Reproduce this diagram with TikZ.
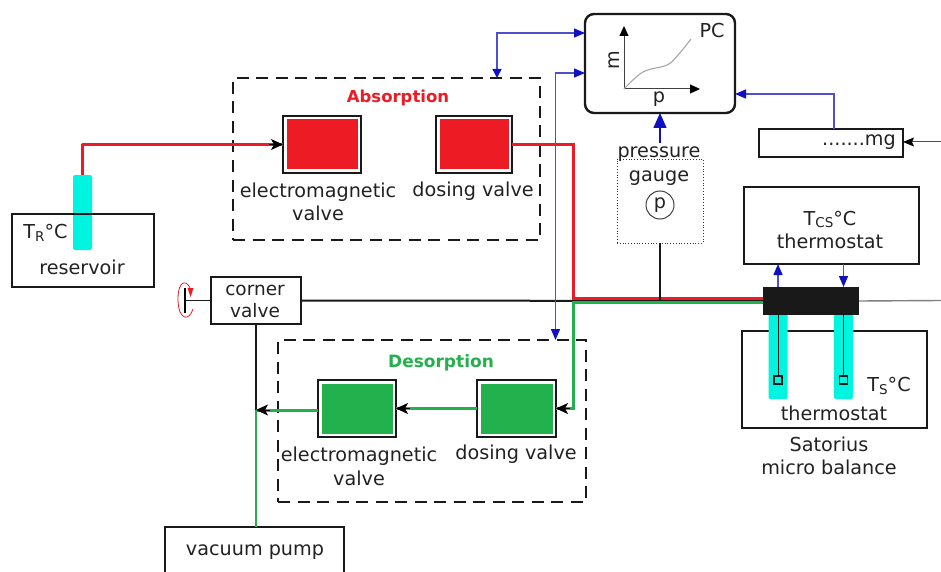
\documentclass[tikz,border=0pt]{standalone}
\usepackage{fontspec}
\setmainfont{DejaVu Sans}
\usetikzlibrary{arrows.meta,calc}
\definecolor{txt}{HTML}{222222}
\definecolor{rd}{HTML}{ED1C24}
\definecolor{gn}{HTML}{22B14C}
\definecolor{bl}{HTML}{1010BE}
\definecolor{bll}{HTML}{5050CC}
\definecolor{cy}{HTML}{00F5E0}
\newcommand{\lowsub}[1]{{\fontsize{13.5}{14}\selectfont\raisebox{-2.5pt}{#1}}}
\tikzset{
  lbl/.style={text=txt,font=\fontsize{19.2}{23.5}\selectfont,inner sep=0pt,align=center},
  sbox/.style={draw=black!90,line width=2pt,inner sep=0pt,outer sep=0pt},
  valve/.style={sbox,line width=2.6pt,fill=white},
  dashbox/.style={draw=black!90,line width=2pt,dash pattern=on 12pt off 7.5pt,inner sep=0pt,outer sep=0pt},
  tube/.style={fill=cy,draw=none,rounded corners=2pt},
  blk/.style={-{Stealth[length=12pt,width=11pt,inset=3pt]},black},
  redl/.style={rd,line width=3pt},
  grnl/.style={gn,line width=3pt},
  bluel/.style={bll,line width=1.35pt},
}
\begin{document}
\begin{tikzpicture}[x=1pt,y=-1pt]
\useasboundingbox (0,0) rectangle (941,572);
\clip (0,0) rectangle (941,572);
\fill[white] (0,0) rectangle (941,572);

% dashed groups
\node[dashbox,minimum width=307pt,minimum height=162pt] (abs) at (386.5,159) {};
\node[dashbox,minimum width=308pt,minimum height=162pt] (des) at (432,421) {};
\node[text=rd,font=\fontsize{16.5}{20}\selectfont\bfseries,inner sep=0pt] (abst) at (398,98) {Absorption};
\node[text=gn,font=\fontsize{17}{20}\selectfont\bfseries,inner sep=0pt] (dest) at (441,363) {Desorption};

% valves
\node[valve,minimum width=78pt,minimum height=57pt] (ema) at (322,144.5) {};
\node[valve,minimum width=76pt,minimum height=57pt] (doa) at (474,144.5) {};
\node[valve,minimum width=78pt,minimum height=57pt] (emd) at (357,408.5) {};
\node[valve,minimum width=79pt,minimum height=57pt] (dod) at (516.5,408.5) {};
\fill[rd] ([shift={(3.5pt,3.5pt)}]ema.south west) rectangle ([shift={(-3.5pt,-3.5pt)}]ema.north east);
\fill[rd] ([shift={(3.5pt,3.5pt)}]doa.south west) rectangle ([shift={(-3.5pt,-3.5pt)}]doa.north east);
\fill[gn] ([shift={(3.5pt,3.5pt)}]emd.south west) rectangle ([shift={(-3.5pt,-3.5pt)}]emd.north east);
\fill[gn] ([shift={(3.5pt,3.5pt)}]dod.south west) rectangle ([shift={(-3.5pt,-3.5pt)}]dod.north east);
\node[lbl] (emat) at (318,202) {electromagnetic\\valve};
\node[lbl] (doat) at (473,191) {dosing valve};
\node[lbl] (emdt) at (359,466.5) {electromagnetic\\valve};
\node[lbl] (dodt) at (516,454) {dosing valve};

% reservoir
\node[sbox,minimum width=142pt,minimum height=73pt] (res) at (83,250.5) {};
\node[tube,minimum width=19pt,minimum height=75pt,inner sep=0pt,outer sep=0pt] (rtube) at (82.5,212.5) {};
\draw[black!90,line width=2pt] (73,214) -- (92,214);
\node[lbl] (rest) at (45.5,233) {T\lowsub{R}°C};
\node[lbl] (resl) at (82,267) {reservoir};
\draw[redl,line join=round] (rtube.north) -- (rtube.north |- ema.west) -- (ema.west);
\draw[blk,line width=0.8pt] ($(ema.west)+(-14pt,0)$) -- (ema.west);

% corner valve
\node[sbox,minimum width=90pt,minimum height=47pt] (cv) at (256,300.5) {};
\node[lbl,font=\fontsize{18.5}{22.5}\selectfont] (cvt) at (255,301.5) {corner\\valve};
\coordinate (bar) at (185,300.5);
\draw[black,line width=2.4pt] ($(bar)+(0,-12.5pt)$) -- ($(bar)+(0,12.5pt)$);
\draw[black!90,line width=1.8pt] (bar) -- (cv.west);
\draw[rd,line width=0.8pt] (191,291) .. controls (188,279) and (178,279) .. (178,299) .. controls (178,320) and (189,322) .. (193,309);
\fill[rd] (187.5,288) -- (193.5,288) -- (190.5,297) -- cycle;

% main line
\node[fill=black!90,minimum width=96pt,minimum height=28pt,inner sep=0pt,outer sep=0pt] (head) at (811,301) {};
\draw[black!90,line width=2pt] (cv.east) -- (head.west);
\draw[black!50,line width=1.4pt] (head.east) -- (941,300.5);
\draw[redl] (doa.east) -- (573,144.5) -- (573,298.5) -- (head.west |- 0,298.5);
\draw[grnl] (head.west |- 0,302) -- (573,302) -- (573,408.5) -- (dod.east);
\draw[blk,line width=0.8pt] ($(dod.east)+(14pt,0)$) -- (dod.east);
\draw[grnl] (dod.west) -- (emd.east);
\draw[blk,line width=0.8pt] ($(emd.east)+(14pt,0)$) -- (emd.east);
\coordinate (vj) at (256,410);
\draw[black!90,line width=2pt] (vj |- cv.south) -- (vj);
\draw[grnl] (emd.west |- vj) -- (vj);
\draw[blk,line width=0.8pt] ($(vj)+(14pt,0)$) -- (vj);

% vacuum pump
\node[sbox,minimum width=179pt,minimum height=90pt] (vp) at (254.5,572) {};
\node[lbl] (vpt) at (255,552) {vacuum pump};
\draw[gn,line width=2.6pt] (vj) -- (vj |- vp.north);

% PC
\node[draw=black!90,line width=2.4pt,rounded corners=9pt,minimum width=150pt,minimum height=99pt,inner sep=0pt,outer sep=0pt,fill=white] (pc) at (660,63.5) {};
\coordinate (o) at (624,89);
\coordinate (yt) at (624,26);
\coordinate (xt) at (700,89);
\draw[black!75,line width=1pt,-{Stealth[length=10pt,width=9pt,inset=0pt,black]}] (o) -- (yt);
\draw[black!75,line width=1pt,-{Stealth[length=10pt,width=9pt,inset=0pt,black]}] (o) -- (xt);
\draw[black!35,line width=1.1pt] plot[smooth,tension=0.6] coordinates {(624,89) (643,72) (667,65) (678,55) (691,39)};
\node[lbl,rotate=90] (mt) at (614,60) {m};
\node[lbl] (pt) at (659,99) {p};
\node[lbl] (pct) at (712,31) {PC};

% gauge
\node[draw=black!80,dotted,line width=0.8pt,minimum width=86pt,minimum height=84pt,inner sep=0pt,outer sep=0pt] (gb) at (660,201) {};
\node[lbl] (gt) at (659,166) {pressure\\gauge};
\node[draw=black!75,circle,line width=1pt,minimum size=28pt,inner sep=0pt] (gc) at (660,205) {};
\node[lbl] (gp) at (gc.center) {p};
\draw[black!90,line width=2pt] (gb.south) -- (gb.south |- head.west);

% mg
\node[sbox,minimum width=144pt,minimum height=28pt] (mg) at (831,143) {};
\node[lbl,anchor=east] (mgt) at (896,142) {.......mg};
\coordinate (mgin) at (941,142);
\draw[black!70,line width=1pt,-{Stealth[length=11pt,width=9pt,inset=2pt,black]}] (mgin) -- (mg.east |- mgin);

% blue links
\coordinate (b1) at (497,33);
\coordinate (b2) at (555.5,73);
\coordinate (b3) at (834,94);
\draw[bluel,{Stealth[length=9pt,width=9pt,inset=0pt,bl]}-{Stealth[length=11pt,width=9pt,inset=0pt,bl]}] (abs.north -| b1) -- (b1) -- (b1 -| pc.west);
\draw[bluel,{Stealth[length=11pt,width=9pt,inset=0pt,bl]}-{Stealth[length=11pt,width=9pt,inset=0pt,bl]}] (b2 -| pc.west) -- (b2) -- (b2 |- des.north);
\draw[bluel,-{Stealth[length=11pt,width=9pt,inset=0pt,bl]}] (b3 |- mg.north) -- (b3) -- (b3 -| pc.east);
\coordinate (gu) at (660,143);
\draw[bl,line width=1.4pt,-{Stealth[length=15pt,width=13pt,inset=0pt,bl]}] (gu) -- (gu |- pc.south);

% thermostat top
\node[sbox,minimum width=175pt,minimum height=77pt] (th1) at (831.5,225.5) {};
\node[lbl] (th1t) at (830,230) {T\lowsub{CS}°C\\thermostat};

% thermostat bottom
\node[sbox,minimum width=185pt,minimum height=97pt] (th2) at (834.5,379.5) {};
\node[tube,minimum width=19pt,minimum height=90pt,inner sep=0pt,outer sep=0pt] (tb1) at (778,354) {};
\node[tube,minimum width=19pt,minimum height=90pt,inner sep=0pt,outer sep=0pt] (tb2) at (843.5,354) {};
\node[draw=black!90,line width=1.2pt,minimum size=8pt,inner sep=0pt,outer sep=0pt] (s1) at (778,380) {};
\node[draw=black!90,line width=1.2pt,minimum size=8pt,inner sep=0pt,outer sep=0pt] (s2) at (843.5,380) {};
\draw[black!90,line width=1pt] (s1.north) -- (s1.north |- head.south);
\draw[black!90,line width=1pt] (s2.north) -- (s2.north |- head.south);
\fill[black!90] (head.south west) rectangle (head.north east);
\node[lbl] (tst) at (889,386) {T\lowsub{S}°C};
\node[lbl] (th2t) at (834,413) {thermostat};
\node[lbl] (sat) at (829,456) {Satorius\\micro balance};
\draw[bluel,-{Stealth[length=11pt,width=9pt,inset=0pt,bl]}] (s1.north |- head.north) -- (s1.north |- th1.south);
\draw[bluel,-{Stealth[length=11pt,width=9pt,inset=0pt,bl]}] (s2.north |- th1.south) -- (s2.north |- head.north);
\end{tikzpicture}
\end{document}
